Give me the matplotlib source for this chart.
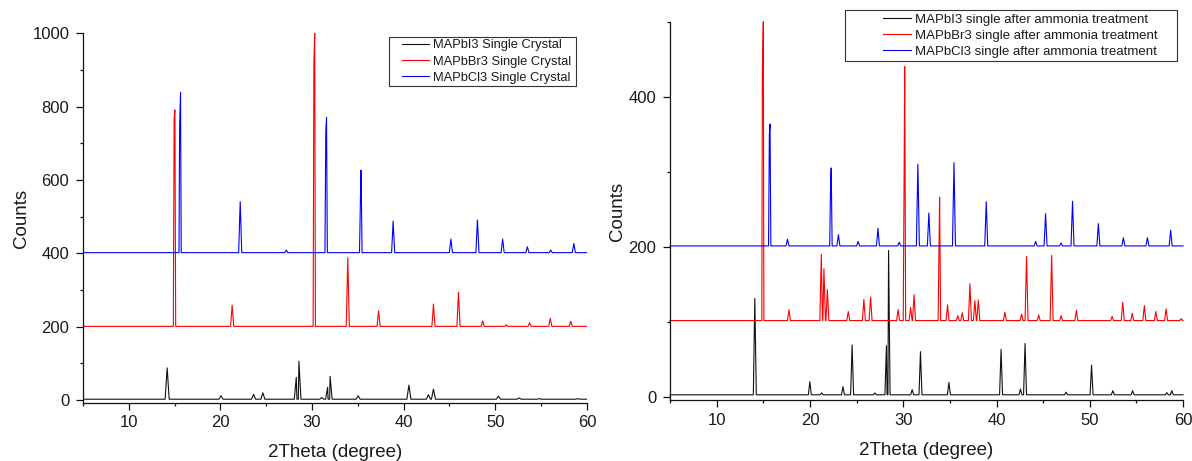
import numpy as np
import matplotlib
matplotlib.use("Agg")
import matplotlib.pyplot as plt
from matplotlib.lines import Line2D
from matplotlib.ticker import MultipleLocator
from matplotlib.legend_handler import HandlerLine2D

plt.rcParams['font.family'] = ['Liberation Sans', 'DejaVu Sans']

# ---------------- data: peak positions (2theta, degree) and peak-top counts ----------------
# Panel (a): as-grown single crystals
crystal_i_pos = [14.19, 20.06, 23.62, 24.63, 28.28, 28.57, 31.05, 31.7, 31.97, 35.03,
                 40.57, 42.7, 43.25, 50.34, 52.6, 54.8, 59.0]
crystal_i_top = [88, 12, 16, 20, 62, 106, 7, 35, 65, 12, 41, 15, 30, 11, 6, 4, 4]
crystal_i_base = 2.5

crystal_br_pos = [14.95, 15.03, 21.28, 30.2, 30.29, 33.9, 37.26, 43.25, 45.98, 48.62,
                  51.2, 53.74, 56.0, 58.23]
crystal_br_top = [768, 791, 259, 918, 1000, 388, 243, 262, 294, 216, 205, 211, 223, 215]
crystal_br_base = 201

crystal_cl_pos = [15.55, 15.65, 22.16, 27.19, 31.5, 31.58, 35.29, 35.35, 38.85, 45.15,
                  48.05, 50.8, 53.5, 56.05, 58.57]
crystal_cl_top = [750, 839, 541, 409, 732, 770, 564, 627, 488, 439, 491, 439, 418, 409, 427]
crystal_cl_base = 402

crystal_labels = ["MAPbI3 Single Crystal", "MAPbBr3 Single Crystal", "MAPbCl3 Single Crystal"]

# Panel (b): single crystals after ammonia treatment
treated_i_pos = [14.09, 19.99, 21.26, 23.54, 24.52, 26.96, 28.2, 28.43, 30.96, 31.85,
                 34.9, 40.49, 42.57, 43.06, 47.46, 50.19, 52.47, 54.59, 58.26, 58.79]
treated_i_top = [131, 20, 5, 13.4, 69, 5, 68, 195, 9.4, 60, 19, 63, 10, 71, 6, 42, 8, 8, 5.4, 8]
treated_i_base = 2.5

treated_br_pos = [14.9, 15.0, 17.75, 21.22, 21.5, 21.87, 24.11, 25.78, 26.5, 29.45,
                  30.1, 30.16, 30.79, 31.16, 33.85, 33.9, 34.75, 35.85, 36.33, 37.15,
                  37.68, 38.05, 40.9, 42.69, 43.22, 44.52, 45.91, 46.93, 48.56, 52.39,
                  53.53, 54.55, 55.85, 57.08, 58.18, 59.8]
treated_br_top = [430, 500, 116, 190, 170.6, 142.5, 113.6, 129.6, 132.7, 116,
                  306, 440, 119, 136, 214, 266, 122.5, 108, 112, 150.6,
                  128, 129, 112.7, 110, 187, 109, 188.4, 108, 115, 107,
                  126, 111, 121.6, 113.6, 117, 104]
treated_br_base = 101.5

treated_cl_pos = [15.65, 15.72, 17.59, 22.22, 22.28, 23.05, 25.17, 27.29, 29.57, 31.57,
                  32.75, 35.44, 38.9, 44.2, 45.26, 46.93, 48.15, 50.92, 53.6, 56.18, 58.67]
treated_cl_top = [351, 363.5, 210, 290, 305, 216, 207, 224.5, 206, 310,
                  245, 312, 260, 207, 244, 205, 260.6, 230.7, 212, 212, 222]
treated_cl_base = 201

treated_labels = ["MAPbI3 single after ammonia treatment",
                  "MAPbBr3 single after ammonia treatment",
                  "MAPbCl3 single after ammonia treatment"]

colors = ["#111111", "#ff0000", "#0000ff"]
x_range = (5, 60)


def pattern(positions, tops, baseline, half_width):
    """Polyline through baseline feet and peak tops, sorted along 2theta."""
    xs = [x_range[0], x_range[1]]
    ys = [baseline, baseline]
    for c, t in zip(positions, tops):
        xs += [c - half_width, c, c + half_width]
        ys += [baseline, t, baseline]
    order = np.argsort(xs, kind="stable")
    return np.asarray(xs)[order], np.asarray(ys)[order]


def style_axes(ax, ylim, ymajor):
    ax.set_xlim(*x_range)
    ax.set_ylim(*ylim)
    ax.spines["top"].set_visible(False)
    ax.spines["right"].set_visible(False)
    for s in ("left", "bottom"):
        ax.spines[s].set_linewidth(0.9)
        ax.spines[s].set_color("#111111")
    ax.xaxis.set_major_locator(MultipleLocator(10))
    ax.xaxis.set_minor_locator(MultipleLocator(5))
    ax.yaxis.set_major_locator(MultipleLocator(ymajor))
    ax.yaxis.set_minor_locator(MultipleLocator(ymajor / 2))
    ax.tick_params(which="major", direction="out", length=4.8, width=0.9,
                   labelsize=12, labelcolor="#1a1a1a", color="#111111")
    ax.tick_params(which="minor", direction="out", length=2.4, width=0.9, color="#111111")
    ax.tick_params(axis="x", which="major", pad=4)
    ax.tick_params(axis="y", which="major", pad=5)
    ax.set_xlabel("2Theta (degree)", fontsize=13.5, color="#1a1a1a", labelpad=10)
    ax.set_ylabel("Counts", fontsize=13.5, color="#1a1a1a", labelpad=2)


def add_legend(ax, anchor, fs, bpad, lspace, hlen, lead):
    leg = ax.legend(loc="upper left", bbox_to_anchor=anchor, mode="expand",
                    borderaxespad=0, fontsize=fs, frameon=True, fancybox=False,
                    edgecolor="#333333", framealpha=1, borderpad=bpad,
                    labelspacing=lspace, handlelength=hlen, handletextpad=0.3,
                    handler_map={Line2D: HandlerLine2D(xpad=lead)})
    leg.get_frame().set_linewidth(0.8)
    for line, col in zip(leg.get_lines(), colors):
        line.set_color(col)
        line.set_linewidth(0.8)
    for txt in leg.get_texts():
        txt.set_color("#1a1a1a")
    return leg


fig = plt.figure(figsize=(11.92, 4.61), dpi=100)

# ---- left panel ----
ax1 = fig.add_axes([0.0696, 0.1265, 0.4228, 0.8013])
left_series = [
    (crystal_i_pos, crystal_i_top, crystal_i_base, 0.22),
    (crystal_br_pos, crystal_br_top, crystal_br_base, 0.17),
    (crystal_cl_pos, crystal_cl_top, crystal_cl_base, 0.17),
]
for (pos, top, base, hw), col, lab in zip(left_series, colors, crystal_labels):
    x, y = pattern(pos, top, base, hw)
    ax1.plot(x, y, color=col, lw=0.8, label=lab)
style_axes(ax1, (-7, 1000), 200)
add_legend(ax1, (0.607, 0.991, 0.371, 0.0), 9.3, 0.22, 0.31, 2.88, 0.79)

# ---- right panel ----
ax2 = fig.add_axes([0.5621, 0.1314, 0.4304, 0.8215])
right_series = [
    (treated_i_pos, treated_i_top, treated_i_base, 0.16),
    (treated_br_pos, treated_br_top, treated_br_base, 0.16),
    (treated_cl_pos, treated_cl_top, treated_cl_base, 0.16),
]
for (pos, top, base, hw), col, lab in zip(right_series, colors, treated_labels):
    x, y = pattern(pos, top, base, hw)
    ax2.plot(x, y, color=col, lw=0.8, label=lab, clip_on=False)
style_axes(ax2, (-5, 500), 200)
add_legend(ax2, (0.341, 1.031, 0.647, 0.0), 9.5, 0.25, 0.29, 4.79, 2.67)

fig.savefig("out.png", dpi=100)
